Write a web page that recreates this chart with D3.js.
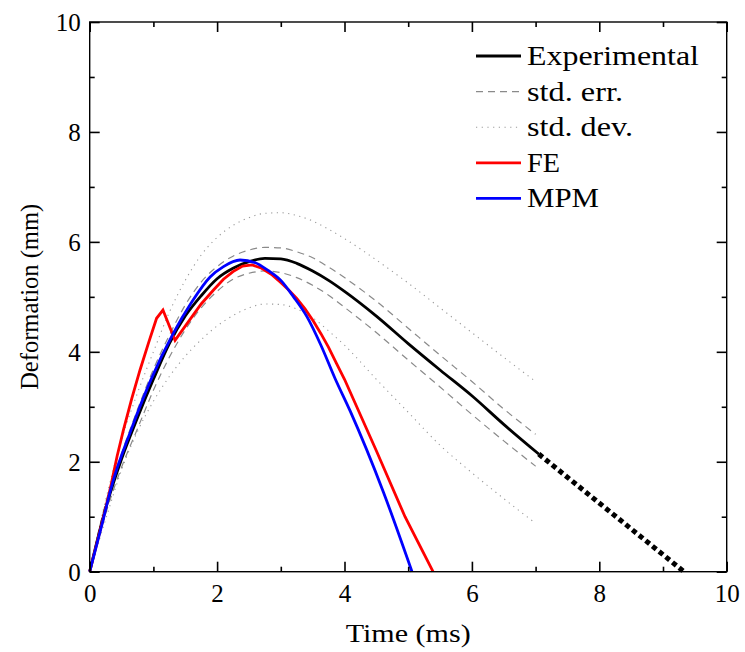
<!DOCTYPE html>
<html>
<head>
<meta charset="utf-8">
<script src="https://cdn.jsdelivr.net/npm/d3@7"></script>
<style>
  body { margin: 0; background: #fff; }
  text { font-family: "Liberation Serif"; fill: #000; }
</style>
</head>
<body>
<div id="app"></div>
<script>
// experimental mean and its bands
const tExp    = [0, 0.25, 0.5, 0.75, 1, 1.25, 1.5, 1.75, 2, 2.25, 2.5, 2.75, 3, 3.25, 3.5, 3.75, 4, 4.5, 5, 5.5, 6, 6.5, 7.05];
const expMean = [0, 1.15, 2.05, 2.8, 3.5, 4.15, 4.65, 5.02, 5.33, 5.52, 5.64, 5.7, 5.69, 5.61, 5.47, 5.3, 5.1, 4.65, 4.15, 3.67, 3.2, 2.68, 2.14];
const tBand   = [0, 0.25, 0.5, 0.75, 1, 1.25, 1.5, 1.75, 2, 2.25, 2.5, 2.75, 3, 3.25, 3.5, 3.75, 4, 4.5, 5, 5.5, 6, 6.5, 7.0];
const errUp   = [0, 1.25, 2.15, 2.95, 3.68, 4.3, 4.85, 5.27, 5.55, 5.74, 5.85, 5.9, 5.89, 5.82, 5.71, 5.54, 5.35, 4.92, 4.43, 3.94, 3.46, 2.96, 2.5];
const errLow  = [0, 1.05, 1.9, 2.6, 3.3, 3.9, 4.4, 4.8, 5.1, 5.32, 5.43, 5.47, 5.44, 5.35, 5.21, 5.03, 4.81, 4.35, 3.85, 3.36, 2.86, 2.38, 1.92];
const devUp   = [0, 1.3, 2.4, 3.25, 4.0, 4.72, 5.3, 5.76, 6.08, 6.3, 6.44, 6.52, 6.53, 6.48, 6.38, 6.23, 6.06, 5.67, 5.25, 4.8, 4.35, 3.9, 3.46];
const devLow  = [0, 0.95, 1.85, 2.55, 3.1, 3.55, 3.92, 4.22, 4.47, 4.66, 4.8, 4.87, 4.86, 4.78, 4.62, 4.38, 4.12, 3.5, 2.9, 2.3, 1.8, 1.33, 0.88];
// extrapolated tail of the experimental curve
const tTail   = [7.05, 9.33];
const tailVal = [2.14, 0];

// FE model
const tFE  = [0, 0.25, 0.33, 0.43, 0.53, 0.66, 0.79, 0.92, 1.05, 1.15, 1.34, 1.57, 1.75, 1.94, 2.1, 2.25, 2.4, 2.55, 2.7, 2.85, 2.99, 3.12, 3.25, 3.38, 3.51, 3.63, 3.75, 3.87, 4.0, 4.5, 4.95, 5.39];
const feV  = [0, 1.15, 1.55, 2.1, 2.58, 3.15, 3.67, 4.15, 4.61, 4.76, 4.21, 4.58, 4.87, 5.12, 5.32, 5.46, 5.56, 5.58, 5.52, 5.41, 5.27, 5.13, 4.97, 4.78, 4.56, 4.33, 4.08, 3.8, 3.5, 2.2, 1.0, 0];

// MPM model
const tMPM = [0, 0.21, 0.33, 0.65, 0.96, 1.31, 1.6, 1.89, 2.1, 2.36, 2.6, 2.8, 3.0, 3.2, 3.41, 3.63, 3.85, 4.09, 4.61, 5.06];
const mpmV = [0, 0.94, 1.5, 2.58, 3.49, 4.33, 4.9, 5.36, 5.55, 5.67, 5.62, 5.48, 5.3, 5.0, 4.64, 4.12, 3.52, 2.92, 1.45, 0];

const xMajor = [0, 2, 4, 6, 8, 10];
const xMinor = [1, 3, 5, 7, 9];
const yMajor = [0, 2, 4, 6, 8, 10];
const yMinor = [1, 3, 5, 7, 9];

const legendLabels = ["Experimental", "std. err.", "std. dev.", "FE", "MPM"];

const W = 745, H = 652;
const margin = {top: 22, right: 18.3, bottom: 80.3, left: 89.7};
const width = W - margin.left - margin.right;
const height = H - margin.top - margin.bottom;

const x = d3.scaleLinear().domain([0, 10]).range([0, width]);
const y = d3.scaleLinear().domain([0, 10]).range([height, 0]);

const svg = d3.select("#app").append("svg")
    .attr("width", W)
    .attr("height", H);
const g = svg.append("g")
    .attr("transform", "translate(" + margin.left + "," + margin.top + ")");

const styles = {
  exp:  {stroke: "#000", width: 2.8, dash: null},
  err:  {stroke: "#8a8a8a", width: 1.2, dash: "7,5"},
  dev:  {stroke: "#9a9a9a", width: 1.1, dash: "1.2,4.5"},
  fe:   {stroke: "#ff0000", width: 2.8, dash: null},
  mpm:  {stroke: "#0000ff", width: 2.8, dash: null}
};

const zip = (a, b) => a.map((v, i) => [v, b[i]]);

const drawSeries = (pts, st, curve) => {
  const line = d3.line()
      .x(d => x(d[0]))
      .y(d => y(d[1]))
      .curve(curve || d3.curveMonotoneX);
  g.append("path")
      .datum(pts)
      .attr("fill", "none")
      .attr("stroke", st.stroke)
      .attr("stroke-width", st.width)
      .attr("stroke-dasharray", st.dash)
      .attr("stroke-linejoin", "miter")
      .attr("d", line);
};

drawSeries(zip(tBand, devUp), styles.dev);
drawSeries(zip(tBand, devLow), styles.dev);
drawSeries(zip(tBand, errUp), styles.err);
drawSeries(zip(tBand, errLow), styles.err);
drawSeries(zip(tExp, expMean), styles.exp);
drawSeries(zip(tFE, feV), styles.fe, d3.curveLinear);
drawSeries(zip(tMPM, mpmV), styles.mpm);

// thick dotted extrapolation
drawSeries(zip(tTail, tailVal), {stroke: "#000", width: 5, dash: "5,3.6"}, d3.curveLinear);

// axes: ticks inward on all four sides
const tickAxis = (axis, vals, size, tf) => axis.tickValues(vals).tickSize(size).tickFormat(tf);
const noLabel = () => "";

const addAxis = (gen, transform) => {
  const a = g.append("g").attr("transform", transform).call(gen);
  a.select(".domain").remove();
  a.attr("font-family", null);
  a.selectAll(".tick line").attr("stroke", "#000").attr("stroke-width", 1.6);
  a.selectAll(".tick text")
      .style("font-family", "'Liberation Serif'")
      .style("font-size", "25px")
      .attr("fill", "#000");
  return a;
};

const xb = addAxis(tickAxis(d3.axisBottom(x), xMajor, -10, d3.format("d")), "translate(0," + height + ")");
xb.selectAll(".tick text").attr("y", 30).attr("dy", 0);
addAxis(tickAxis(d3.axisBottom(x), xMinor, -5, noLabel), "translate(0," + height + ")");
addAxis(tickAxis(d3.axisTop(x), xMajor, -10, noLabel), "translate(0,0)");
addAxis(tickAxis(d3.axisTop(x), xMinor, -5, noLabel), "translate(0,0)");

const yl = addAxis(tickAxis(d3.axisLeft(y), yMajor, -10, d3.format("d")), "translate(0,0)");
yl.selectAll(".tick text").attr("x", -9).attr("dy", "0.34em");
addAxis(tickAxis(d3.axisLeft(y), yMinor, -5, noLabel), "translate(0,0)");
addAxis(tickAxis(d3.axisRight(y), yMajor, -10, noLabel), "translate(" + width + ",0)");
addAxis(tickAxis(d3.axisRight(y), yMinor, -5, noLabel), "translate(" + width + ",0)");

// frame
g.append("rect")
    .attr("width", width)
    .attr("height", height)
    .attr("fill", "none")
    .attr("stroke", "#000")
    .attr("stroke-width", 1.4);

// axis titles
svg.append("text")
    .attr("x", margin.left + width / 2)
    .attr("y", 642)
    .attr("text-anchor", "middle")
    .attr("font-size", 25)
    .attr("textLength", 125)
    .attr("lengthAdjust", "spacingAndGlyphs")
    .text("Time (ms)");

svg.append("text")
    .attr("transform", "translate(38," + (margin.top + height / 2) + ") rotate(-90)")
    .attr("text-anchor", "middle")
    .attr("font-size", 25)
    .attr("textLength", 186)
    .attr("lengthAdjust", "spacingAndGlyphs")
    .text("Deformation (mm)");

// legend
const legendStyles = [styles.exp, styles.err, styles.dev, styles.fe, styles.mpm];
const legendWidths = [172, 96, 106, 33, 72];
const legend = svg.append("g").attr("transform", "translate(476,65)");
legendLabels.forEach((lab, i) => {
  const row = legend.append("g").attr("transform", "translate(0," + (i * 35.6) + ")");
  const st = legendStyles[i];
  row.append("line")
      .attr("x1", 0).attr("x2", 45)
      .attr("y1", -9).attr("y2", -9)
      .attr("stroke", st.stroke)
      .attr("stroke-width", st.width)
      .attr("stroke-dasharray", st.dash);
  row.append("text")
      .attr("x", 51)
      .attr("y", 0)
      .attr("font-size", 27)
      .attr("textLength", legendWidths[i])
      .attr("lengthAdjust", "spacingAndGlyphs")
      .text(lab);
});
</script>
</body>
</html>
